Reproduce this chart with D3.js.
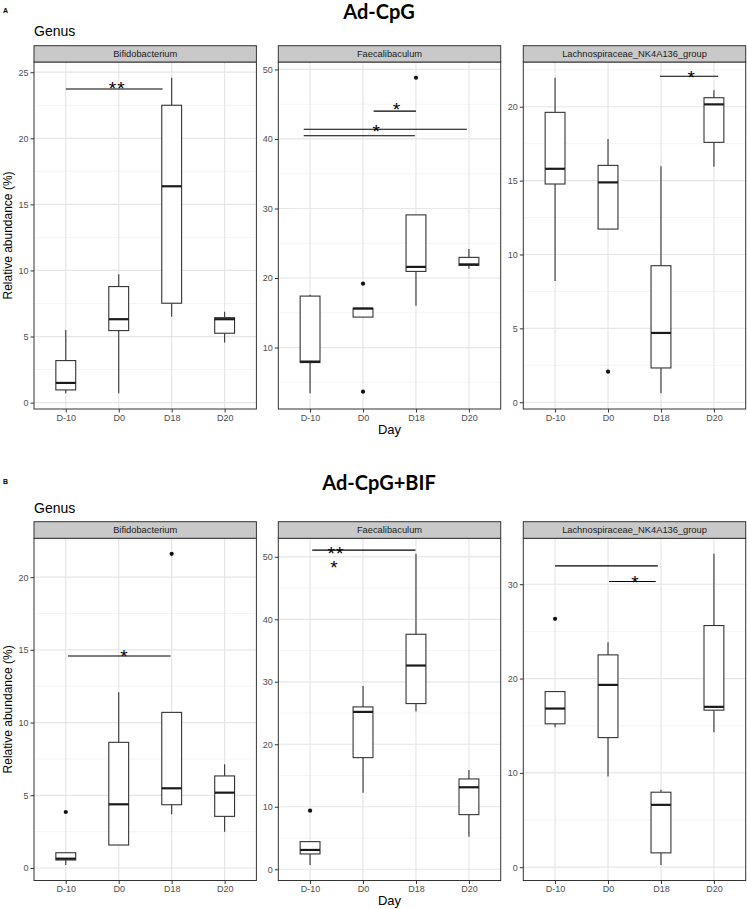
<!DOCTYPE html>
<html>
<head>
<meta charset="utf-8">
<script src="https://cdn.jsdelivr.net/npm/d3@7"></script>
<style>
  body { margin: 0; background: #fff; }
  svg { display: block; font-family: "Liberation Sans", Arial, sans-serif; }
</style>
</head>
<body>
<svg id="chart" width="747" height="909"></svg>
<script>
const days = ["D-10", "D0", "D18", "D20"];
const genera = ["Bifidobacterium", "Faecalibaculum", "Lachnospiraceae_NK4A136_group"];

// box stats per day: [lower whisker, Q1, median, Q3, upper whisker]
const adcpgBifido = [[0.71, 0.96, 1.49, 3.18, 5.5], [0.71, 5.45, 6.31, 8.78, 9.71], [6.5, 7.52, 16.37, 22.5, 24.58], [4.54, 5.25, 6.31, 6.43, 6.88]];
const adcpgFaecali = [[3.43, 7.84, 7.98, 17.4, 17.6], [14.38, 14.38, 15.6, 15.67, 15.67], [16.0, 20.95, 21.6, 29.08, 29.08], [21.34, 21.82, 21.96, 22.97, 24.18]];
const adcpgLachno = [[8.2, 14.77, 15.8, 19.62, 21.96], [11.72, 11.72, 14.88, 16.03, 17.81], [0.61, 2.32, 4.69, 9.24, 15.97], [15.94, 17.59, 20.16, 20.61, 21.11]];
const bifBifido = [[0.21, 0.55, 0.64, 1.05, 1.05], [1.58, 1.58, 4.38, 8.64, 12.08], [3.69, 4.35, 5.48, 10.7, 10.7], [2.5, 3.55, 5.18, 6.33, 7.13]];
const bifFaecali = [[0.69, 2.45, 3.09, 4.42, 4.42], [12.26, 17.86, 25.18, 25.98, 29.34], [25.23, 26.51, 32.6, 37.6, 50.47], [5.22, 8.74, 13.12, 14.45, 15.9]];
const bifLachno = [[14.85, 15.2, 16.82, 18.62, 18.62], [9.61, 13.74, 19.33, 22.51, 23.86], [0.24, 1.52, 6.61, 7.95, 8.2], [14.32, 16.65, 17.0, 25.62, 33.22]];

// outliers: [day, value]
const adcpgBifidoOut = [];
const adcpgFaecaliOut = [["D0", 3.66], ["D0", 19.18], ["D18", 48.8]];
const adcpgLachnoOut = [["D0", 2.07]];
const bifBifidoOut = [["D-10", 3.85], ["D18", 21.6]];
const bifFaecaliOut = [["D-10", 9.38]];
const bifLachnoOut = [["D-10", 26.33]];

// significance bars: [x from, x to (day position 1..4), y value]
const adcpgBifidoSig = [[1, 2.83, 23.73]];
const adcpgFaecaliSig = [[2.2, 3.0, 44.0], [0.88, 3.96, 41.4], [0.88, 2.98, 40.46]];
const adcpgLachnoSig = [[2.98, 4.08, 22.06]];
const bifBifidoSig = [[1.04, 2.98, 14.58]];
const bifFaecaliSig = [[1.04, 2.99, 51.06]];
const bifLachnoSig = [[1.0, 2.94, 31.95], [2.02, 2.9, 30.29]];

// significance labels: [x position, y value of glyph bottom, text]
const adcpgBifidoStars = [[1.97, 23.86, "**"]];
const adcpgFaecaliStars = [[2.64, 44.5, "*"], [2.26, 41.34, "*"]];
const adcpgLachnoStars = [[3.58, 22.08, "*"]];
const bifBifidoStars = [[2.11, 14.65, "*"]];
const bifFaecaliStars = [[1.49, 50.8, "**"], [1.46, 48.5, "*"]];
const bifLachnoStars = [[2.52, 30.29, "*"]];

const adcpgTicks = [[0, 5, 10, 15, 20, 25], [10, 20, 30, 40, 50], [0, 5, 10, 15, 20]];
const bifTicks = [[0, 5, 10, 15, 20], [0, 10, 20, 30, 40, 50], [0, 10, 20, 30]];

const rows = [
  { tag: "A", title: "Ad-CpG", tagY: 12.5, titleY: 19, genusY: 36, stripTop: 45.7, top: 62, bottom: 409,
    stats: [adcpgBifido, adcpgFaecali, adcpgLachno], outs: [adcpgBifidoOut, adcpgFaecaliOut, adcpgLachnoOut],
    sig: [adcpgBifidoSig, adcpgFaecaliSig, adcpgLachnoSig], stars: [adcpgBifidoStars, adcpgFaecaliStars, adcpgLachnoStars], ticks: adcpgTicks },
  { tag: "B", title: "Ad-CpG+BIF", tagY: 484, titleY: 490, genusY: 513, stripTop: 521.7, top: 538.3, bottom: 880.5,
    stats: [bifBifido, bifFaecali, bifLachno], outs: [bifBifidoOut, bifFaecaliOut, bifLachnoOut],
    sig: [bifBifidoSig, bifFaecaliSig, bifLachnoSig], stars: [bifBifidoStars, bifFaecaliStars, bifLachnoStars], ticks: bifTicks }
];

const panelLeft = [34, 278.3, 523.3];
const panelW = 222.4;
const dark = "#333333";
const starSize = 19;

const svg = d3.select("#chart");

rows.forEach(row => {
  svg.append("text").attr("x", 3).attr("y", row.tagY)
    .style("font-size", "7px").style("font-weight", "bold").text(row.tag);
  svg.append("text").attr("x", 379).attr("y", row.titleY).attr("text-anchor", "middle")
    .style("font-family", "Lato, 'Open Sans', sans-serif").style("font-size", "20px").style("font-weight", "bold")
    .text(row.title);
  svg.append("text").attr("x", 34).attr("y", row.genusY)
    .style("font-size", "14px").attr("fill", "#000").text("Genus");

  genera.forEach((g, p) => {
    const left = panelLeft[p];
    const stats = row.stats[p];
    const outs = row.outs[p];
    const vals = stats.flat().concat(outs.map(o => o[1]));
    const lo = d3.min(vals), hi = d3.max(vals);
    const pad = (hi - lo) * 0.05;

    const x = d3.scaleLinear().domain([0.4, 4.6]).range([left, left + panelW]);
    const y = d3.scaleLinear().domain([lo - pad, hi + pad]).range([row.bottom, row.top]);
    const dayX = d => x(days.indexOf(d) + 1);
    const boxW = x(1.375) - x(1);

    const gPanel = svg.append("g");

    // minor grid
    const ticks = row.ticks[p];
    const step = ticks[1] - ticks[0];
    const minors = d3.range(ticks[0] - step / 2, ticks[ticks.length - 1] + step, step)
      .filter(v => v > y.domain()[0] && v < y.domain()[1]);
    gPanel.selectAll(".minor").data(minors).enter().append("line")
      .attr("x1", left).attr("x2", left + panelW)
      .attr("y1", d => y(d)).attr("y2", d => y(d))
      .attr("stroke", "#f2f2f2").attr("stroke-width", 0.8);
    // major grid
    gPanel.selectAll(".major").data(ticks).enter().append("line")
      .attr("x1", left).attr("x2", left + panelW)
      .attr("y1", d => y(d)).attr("y2", d => y(d))
      .attr("stroke", "#e6e6e6").attr("stroke-width", 1.2);
    gPanel.selectAll(".vgrid").data(days).enter().append("line")
      .attr("x1", dayX).attr("x2", dayX)
      .attr("y1", row.top).attr("y2", row.bottom)
      .attr("stroke", "#e6e6e6").attr("stroke-width", 1.2);

    // whiskers
    const boxes = gPanel.selectAll(".box").data(stats).enter().append("g");
    boxes.append("line")
      .attr("x1", (d, i) => dayX(days[i])).attr("x2", (d, i) => dayX(days[i]))
      .attr("y1", d => y(d[0])).attr("y2", d => y(d[1]))
      .attr("stroke", dark).attr("stroke-width", 1.1);
    boxes.append("line")
      .attr("x1", (d, i) => dayX(days[i])).attr("x2", (d, i) => dayX(days[i]))
      .attr("y1", d => y(d[3])).attr("y2", d => y(d[4]))
      .attr("stroke", dark).attr("stroke-width", 1.1);
    boxes.append("rect")
      .attr("x", (d, i) => dayX(days[i]) - boxW / 2).attr("width", boxW)
      .attr("y", d => y(d[3])).attr("height", d => Math.max(0.5, y(d[1]) - y(d[3])))
      .attr("fill", "#fff").attr("stroke", dark).attr("stroke-width", 1.1);
    boxes.append("line")
      .attr("x1", (d, i) => dayX(days[i]) - boxW / 2).attr("x2", (d, i) => dayX(days[i]) + boxW / 2)
      .attr("y1", d => y(d[2])).attr("y2", d => y(d[2]))
      .attr("stroke", "#1a1a1a").attr("stroke-width", 2.2);

    gPanel.selectAll(".out").data(outs).enter().append("circle")
      .attr("cx", d => dayX(d[0])).attr("cy", d => y(d[1])).attr("r", 2.1)
      .attr("fill", "#111");

    // significance
    gPanel.selectAll(".sig").data(row.sig[p]).enter().append("line")
      .attr("x1", d => x(d[0])).attr("x2", d => x(d[1]))
      .attr("y1", d => y(d[2])).attr("y2", d => y(d[2]))
      .attr("stroke", "#000").attr("stroke-width", 1.1);
    gPanel.selectAll(".star").data(row.stars[p]).enter().append("text")
      .attr("x", d => x(d[0])).attr("y", d => y(d[1]) + starSize * 0.42)
      .attr("text-anchor", "middle").style("font-size", starSize + "px")
      .style("letter-spacing", "1px").text(d => d[2]);

    // panel border
    gPanel.append("rect").attr("x", left).attr("y", row.top).attr("width", panelW).attr("height", row.bottom - row.top)
      .attr("fill", "none").attr("stroke", dark).attr("stroke-width", 1);

    // strip
    gPanel.append("rect").attr("x", left).attr("y", row.stripTop).attr("width", panelW).attr("height", row.top - row.stripTop)
      .attr("fill", "#c9c9c9").attr("stroke", dark).attr("stroke-width", 1);
    gPanel.append("text").attr("x", left + panelW / 2).attr("y", (row.stripTop + row.top) / 2 + 3.3)
      .attr("text-anchor", "middle").style("font-size", "9.3px").attr("fill", "#1a1a1a").text(g);

    // y axis
    const yAxis = d3.axisLeft(y).tickValues(ticks).tickSize(3.5).tickPadding(2);
    const ga = svg.append("g").attr("transform", `translate(${left},0)`).call(yAxis);
    ga.select(".domain").remove();
    ga.selectAll(".tick line").attr("stroke", dark);
    ga.selectAll(".tick text").attr("fill", "#4d4d4d").style("font-size", "9px")
      .style("font-family", "'Liberation Sans', Arial, sans-serif");

    // x axis
    const xAxis = d3.axisBottom(d3.scalePoint().domain(days).range([x(1), x(4)])).tickSize(3.5).tickPadding(2);
    const gx = svg.append("g").attr("transform", `translate(0,${row.bottom})`).call(xAxis);
    gx.select(".domain").remove();
    gx.selectAll(".tick line").attr("stroke", dark);
    gx.selectAll(".tick text").attr("fill", "#4d4d4d").style("font-size", "9px")
      .style("font-family", "'Liberation Sans', Arial, sans-serif");
  });

  svg.append("text").attr("transform", `translate(12,${(row.top + row.bottom) / 2}) rotate(-90)`)
    .attr("text-anchor", "middle").style("font-size", "12px").text("Relative abundance (%)");
  svg.append("text").attr("x", panelLeft[1] + panelW / 2).attr("y", row.bottom + 24.5)
    .attr("text-anchor", "middle").style("font-size", "13px").text("Day");
});
</script>
</body>
</html>
